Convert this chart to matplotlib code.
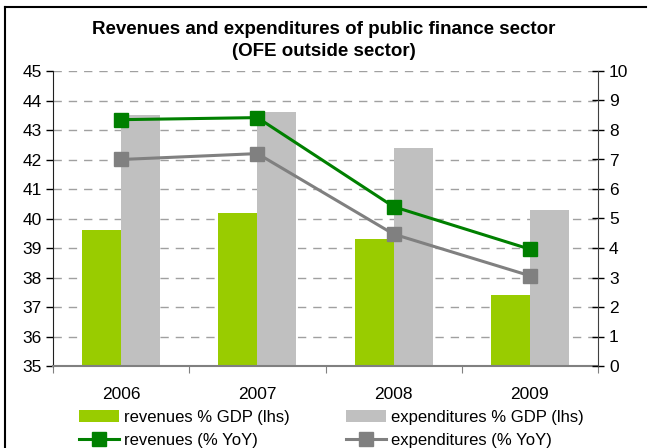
import numpy as np
import matplotlib
matplotlib.use("Agg")
from matplotlib import pyplot as plt
from matplotlib.lines import Line2D

plt.rcParams['font.family'] = ['Liberation Sans', 'DejaVu Sans']

years = ['2006', '2007', '2008', '2009']
revenues_gdp = [39.6, 40.2, 39.3, 37.4]
expenditures_gdp = [43.5, 43.6, 42.4, 40.3]
revenues_yoy = [8.35, 8.42, 5.4, 3.96]
expenditures_yoy = [7.0, 7.2, 4.47, 3.06]

green_bar = '#99CC00'
grey_bar = '#C0C0C0'
green_line = '#008000'
grey_line = '#808080'

my_dpi = 100
fig = plt.figure(figsize=(648/my_dpi, 448/my_dpi), dpi=my_dpi, facecolor='w')
ax = fig.add_axes([53/648, 1-366/448, 545/648, 295/448])
ax2 = ax.twinx()

idx = np.arange(len(years))
bar_width = 0.286
ax.bar(idx - bar_width/2, np.array(revenues_gdp) - 35, bar_width, bottom=35,
       color=green_bar, label='revenues % GDP (lhs)', zorder=2)
ax.bar(idx + bar_width/2, np.array(expenditures_gdp) - 35, bar_width, bottom=35,
       color=grey_bar, label='expenditures % GDP (lhs)', zorder=2)

ax.set_ylim(35, 45)
ax.set_xlim(-0.5, len(years) - 0.5)
ax.set_yticks(range(35, 46))
ax.yaxis.grid(True, color='#a0a0a0', linestyle=(0, (6, 5)), linewidth=1)
ax.set_axisbelow(True)

# category boundaries as major ticks, year labels as minor ticks
ax.set_xticks(np.arange(-0.5, len(years)), labels=[])
ax.set_xticks(idx, labels=years, minor=True)
ax.tick_params(axis='x', which='major', direction='out', length=5, color='#808080')
ax.tick_params(axis='x', which='minor', length=0, pad=15, labelsize=12.5)
ax.tick_params(axis='y', direction='out', length=5, width=1, labelsize=12.5, pad=3)

ax2.plot(idx, revenues_yoy, color=green_line, linewidth=2.2, marker='s',
         markersize=10, label='revenues (% YoY)', zorder=3)
ax2.plot(idx, expenditures_yoy, color=grey_line, linewidth=2.2, marker='s',
         markersize=10, label='expenditures (% YoY)', zorder=3)
ax2.set_ylim(0, 10)
ax2.set_yticks(range(0, 11))
ax2.tick_params(axis='y', direction='inout', length=8, width=1, labelsize=12.5, pad=4)

for a in (ax, ax2):
    a.spines['top'].set_visible(False)
ax.spines['left'].set_color('#202020')
ax.spines['bottom'].set_color('#808080')
ax.spines['bottom'].set_linewidth(1.5)
ax2.spines['right'].set_color('#404040')
ax2.spines['left'].set_visible(False)
ax2.spines['bottom'].set_visible(False)
ax.spines['right'].set_visible(False)

fig.text(0.5, 1-30/448, 'Revenues and expenditures of public finance sector',
         ha='center', va='center', fontsize=13.5, fontweight='bold')
fig.text(0.5, 1-52/448, '(OFE outside sector)',
         ha='center', va='center', fontsize=13.5, fontweight='bold')

# legend: bars on the first row, lines on the second
h1, l1 = ax.get_legend_handles_labels()
h2, l2 = ax2.get_legend_handles_labels()
handles = [h1[0], h2[0], h1[1], h2[1]]
labels = [l1[0], l2[0], l1[1], l2[1]]
fig.legend(handles, labels, ncol=2, loc='upper left', bbox_to_anchor=(72/648, 1-403/448),
           frameon=False, fontsize=12, handlelength=2.4, handletextpad=0.3,
           columnspacing=3.4, labelspacing=0.5, borderaxespad=0)

# outer frame lines
fig.add_artist(Line2D([5/648, 5/648], [0, 1-7/448], color='black', linewidth=1.5))
fig.add_artist(Line2D([5/648, 646/648], [1-7/448, 1-7/448], color='black', linewidth=1.5))

plt.savefig('out.png', dpi=my_dpi)
